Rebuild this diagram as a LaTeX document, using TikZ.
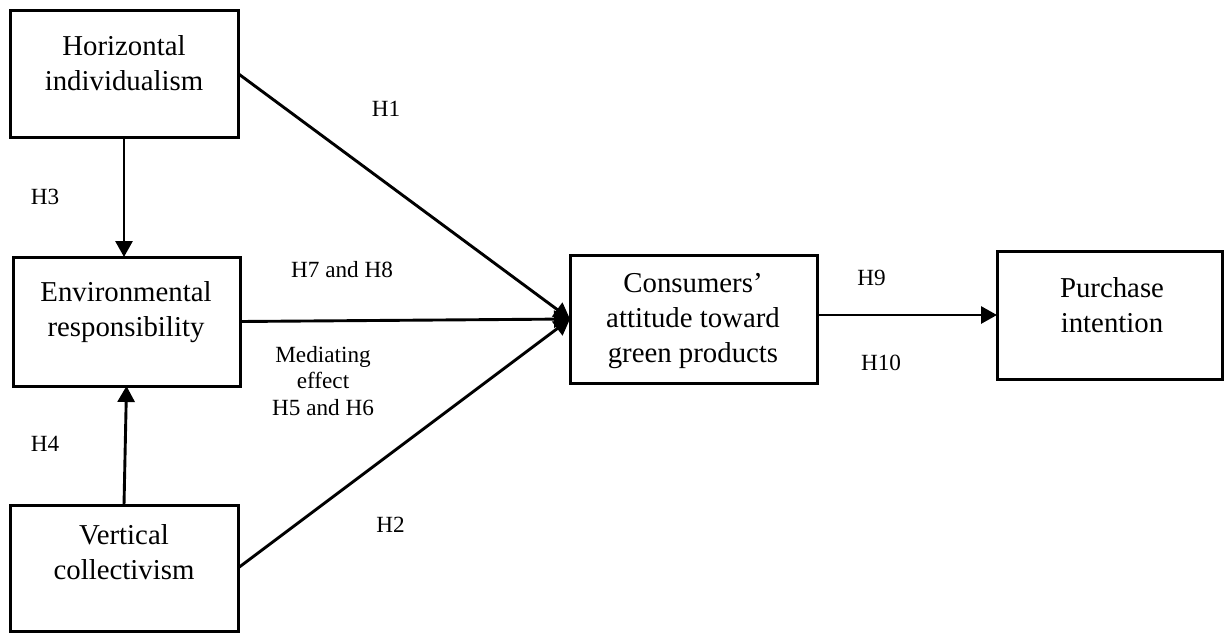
\documentclass[tikz,border=0pt]{standalone}
\usepackage{fontspec}
\setmainfont{Liberation Serif}
\usetikzlibrary{arrows.meta}
\begin{document}
\begin{tikzpicture}[x=0.5pt,y=-0.5pt,
  box/.style={draw,line width=1.5pt,rectangle,inner sep=0pt,outer sep=0pt},
  boxtext/.style={font=\fontsize{14.4}{17.5}\selectfont,align=center,anchor=base,inner sep=0pt},
  lbl/.style={font=\fontsize{11.6}{13.25}\selectfont,align=center,anchor=base,inner sep=0pt},
  arr/.style={line width=1.45pt,-{Triangle[length=8pt,width=8.5pt]}}]
\useasboundingbox (0,0) rectangle (1224,633);

% construct boxes
\node[box,minimum width=114pt,minimum height=63.5pt] (HI) at (124,73.5) {};
\node[box,minimum width=113.5pt,minimum height=64.5pt] (ER) at (126.5,321.5) {};
\node[box,minimum width=114pt,minimum height=63pt] (VC) at (124,568) {};
\node[box,minimum width=123.5pt,minimum height=64pt] (CA) at (693.5,319) {};
\node[box,minimum width=112.5pt,minimum height=64pt] (PI) at (1109.5,315) {};

% box captions (placed by the baseline of their last line)
\node[boxtext] (HIt) at (124,90) {Horizontal\\individualism};
\node[boxtext] (ERt) at (126,336.7) {Environmental\\responsibility};
\node[boxtext] (VCt) at (124,579) {Vertical\\collectivism};
\node[boxtext] (CAt) at (693,362) {Consumers’\\attitude toward\\green products};
\node[boxtext] (PIt) at (1112,332) {Purchase\\intention};

% paths
\draw[arr] (HI.south) -- (HI.south |- ER.north);
\draw[arr] (VC.north) -- (ER.south);
\draw[arr] (HI.east) -- (CA.west);
\draw[arr] (ER.east) -- (CA.west);
\draw[arr] (VC.east) -- (CA.west);
\draw[arr] (PI.west -| CA.east) -- (PI.west);

% hypothesis labels
\node[lbl] (H1) at (386,116.7) {H1};
\node[lbl] (H2) at (390.5,532) {H2};
\node[lbl] (H3) at (45,204) {H3};
\node[lbl] (H4) at (45,451) {H4};
\node[lbl] (H78) at (342,277) {H7 and H8};
\node[lbl] (H56) at (323,415) {Mediating\\effect\\H5 and H6};
\node[lbl] (H9) at (871.5,285) {H9};
\node[lbl] (H10) at (881,370) {H10};
\end{tikzpicture}
\end{document}
